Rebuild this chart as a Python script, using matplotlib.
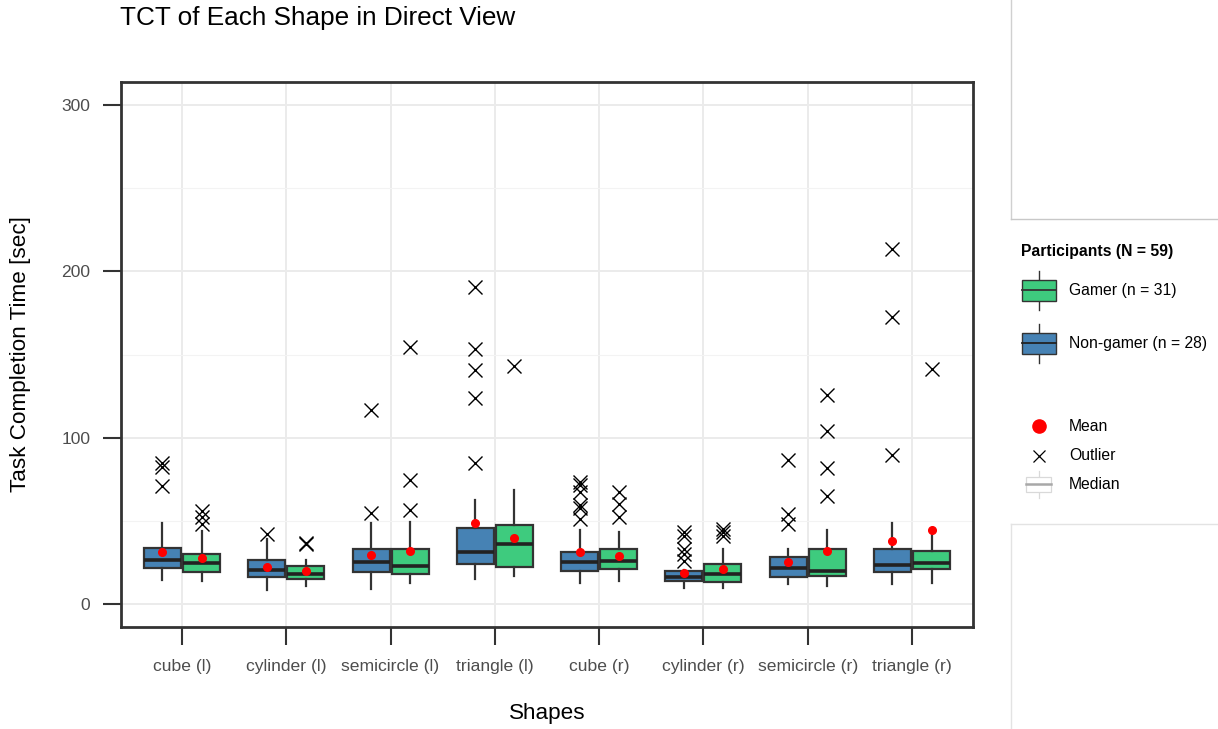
import matplotlib
matplotlib.use("Agg")
import matplotlib.pyplot as plt
from matplotlib.patches import Rectangle

plt.rcParams['font.family'] = ['Liberation Sans', 'DejaVu Sans']

categories = ["cube (l)", "cylinder (l)", "semicircle (l)", "triangle (l)",
              "cube (r)", "cylinder (r)", "semicircle (r)", "triangle (r)"]

# Non-gamer (blue)
ng_whislo = [14.7, 8.6, 8.9, 14.9, 12.7, 9.9, 11.9, 11.9]
ng_q1     = [21.7, 16.3, 19.3, 24.0, 19.7, 14.0, 16.3, 19.5]
ng_med    = [26.6, 20.5, 25.5, 31.4, 25.3, 16.5, 21.5, 23.4]
ng_q3     = [33.8, 26.4, 33.4, 45.5, 31.4, 20.0, 28.4, 33.4]
ng_whishi = [48.5, 39.4, 48.5, 62.6, 44.5, 20.5, 33.4, 48.5]
ng_mean   = [31.4, 22.3, 29.4, 48.7, 31.0, 18.9, 25.3, 37.8]
ng_fliers = [[70.8, 82.3, 84.9], [42.4], [54.5, 116.9],
             [84.7, 123.9, 141.0, 153.1, 190.9],
             [51.1, 57.7, 59.7, 67.6, 71.8, 73.6],
             [26.0, 30.0, 33.4, 41.0, 43.5],
             [48.1, 54.1, 86.7], [89.7, 172.8, 213.6]]

# Gamer (green)
g_whislo = [13.7, 10.9, 12.9, 16.9, 13.7, 9.9, 10.9, 12.9]
g_q1     = [19.5, 15.3, 17.9, 22.5, 21.1, 13.3, 17.0, 20.9]
g_med    = [24.5, 18.3, 22.9, 36.4, 25.8, 17.9, 19.8, 24.9]
g_q3     = [30.0, 23.1, 33.4, 47.5, 32.8, 24.0, 33.0, 32.0]
g_whishi = [44.0, 26.4, 49.5, 68.6, 43.5, 33.4, 44.5, 43.5]
g_mean   = [27.8, 19.7, 31.8, 39.8, 29.0, 20.9, 31.6, 44.5]
g_fliers = [[48.1, 52.1, 56.1], [36.0, 37.0], [56.7, 74.6, 154.7], [143.0],
            [52.1, 60.2, 67.2], [41.0, 43.5, 45.0],
            [64.8, 81.7, 103.8, 125.9], [141.6]]

yticks = [0, 100, 200, 300]

BLUE = '#4682B4'
GREEN = '#3ECB7E'
EDGE = '#333333'


def stats(wl, q1, md, q3, wh, mn, fl):
    return [dict(whislo=a, q1=b, med=c, q3=d, whishi=e, mean=f, fliers=g)
            for a, b, c, d, e, f, g in zip(wl, q1, md, q3, wh, mn, fl)]


fig = plt.figure(figsize=(12.18, 7.29), dpi=100)
ax = fig.add_axes([121/1218, 1-627/729, (973-121)/1218, (627-82)/729])

off = 0.1875
wid = 0.355
common = dict(widths=wid, patch_artist=True, showmeans=True, showcaps=False,
              boxprops=dict(edgecolor=EDGE, linewidth=1.6),
              whiskerprops=dict(color=EDGE, linewidth=1.6),
              medianprops=dict(color='#222222', linewidth=2.6),
              meanprops=dict(marker='o', markerfacecolor='red', markeredgecolor='red',
                             markersize=5.5),
              flierprops=dict(marker='x', markeredgecolor='black', markersize=10,
                              markeredgewidth=1.0, linestyle='none'))

pos_ng = [i - off for i in range(len(categories))]
pos_g = [i + off for i in range(len(categories))]
b1 = ax.bxp(stats(ng_whislo, ng_q1, ng_med, ng_q3, ng_whishi, ng_mean, ng_fliers),
            positions=pos_ng, **common)
b2 = ax.bxp(stats(g_whislo, g_q1, g_med, g_q3, g_whishi, g_mean, g_fliers),
            positions=pos_g, **common)
for p in b1['boxes']:
    p.set_facecolor(BLUE)
for p in b2['boxes']:
    p.set_facecolor(GREEN)

ax.set_xlim(-0.585, len(categories) - 1 + 0.585)
ax.set_ylim(-13.8, 313.9)
ax.set_xticks(range(len(categories)))
ax.set_xticklabels(categories)
ax.set_yticks(yticks)
ax.set_yticks([50, 150, 250], minor=True)
ax.set_axisbelow(True)
ax.grid(True, which='major', color='#ebebeb', linewidth=1.4)
ax.grid(True, which='minor', axis='y', color='#f3f3f3', linewidth=0.8)
ax.tick_params(axis='both', which='major', length=13, width=1.5, color=EDGE,
               labelcolor='#4d4d4d', labelsize=12.6)
ax.tick_params(axis='x', pad=10)
ax.tick_params(axis='y', pad=9)
ax.tick_params(which='minor', length=0)
for s in ax.spines.values():
    s.set_color(EDGE)
    s.set_linewidth(2.0)

ax.set_xlabel('Shapes', fontsize=16.2, labelpad=21)
ax.set_ylabel('Task Completion Time [sec]', fontsize=16.2, labelpad=22)
fig.text(120/1218, 1-18/729, 'TCT of Each Shape in Direct View', fontsize=18.8,
         ha='left', va='center')

# overlay in pixel coordinates for legend
ov = fig.add_axes([0, 0, 1, 1], zorder=5)
ov.set_xlim(0, 1218)
ov.set_ylim(729, 0)
ov.axis('off')
ov.patch.set_alpha(0)

ov.plot([1010.5, 1010.5], [0, 219], color='#d0d0d0', lw=1.0)
ov.plot([1010.5, 1218], [219, 219], color='#c8c8c8', lw=1.0)
ov.plot([1010.5, 1218], [523.5, 523.5], color='#e3e3e3', lw=1.0)
ov.plot([1010.5, 1010.5], [523.5, 729], color='#e3e3e3', lw=1.0)

ov.text(1021, 251, 'Participants (N = 59)', fontsize=11.3, fontweight='bold',
        ha='left', va='center')


def key_box(yc, color, edge, medc, lw=1.0, mlw=1.3, x0=1022, x1=1056, h=21, wl=39):
    xc = (x0 + x1) / 2
    ov.plot([xc, xc], [yc - wl / 2, yc + wl / 2], color=edge, lw=lw)
    ov.add_patch(Rectangle((x0, yc - h / 2), x1 - x0, h, facecolor=color,
                           edgecolor=edge, lw=lw, zorder=3))
    ov.plot([x0, x1], [yc, yc], color=medc, lw=mlw, zorder=4)


key_box(290, GREEN, EDGE, '#333333')
ov.text(1069, 290, 'Gamer (n = 31)', fontsize=11.3, ha='left', va='center')
key_box(343, BLUE, EDGE, '#222222')
ov.text(1069, 343, 'Non-gamer (n = 28)', fontsize=11.3, ha='left', va='center')

ov.plot([1038.5], [426], marker='o', color='red', markersize=9.5, linestyle='none')
ov.text(1069, 426, 'Mean', fontsize=11.3, ha='left', va='center')
ov.plot([1038.5], [455.5], marker='x', color='black', markersize=9,
        markeredgewidth=0.9, linestyle='none')
ov.text(1069, 455, 'Outlier', fontsize=11.3, ha='left', va='center')
key_box(484, '#ffffff', '#d9d9d9', '#a8a8a8', lw=0.9, mlw=1.8, x0=1026, x1=1051,
        h=15, wl=27)
ov.text(1069, 484, 'Median', fontsize=11.3, ha='left', va='center')

fig.savefig('out.png', dpi=100)
